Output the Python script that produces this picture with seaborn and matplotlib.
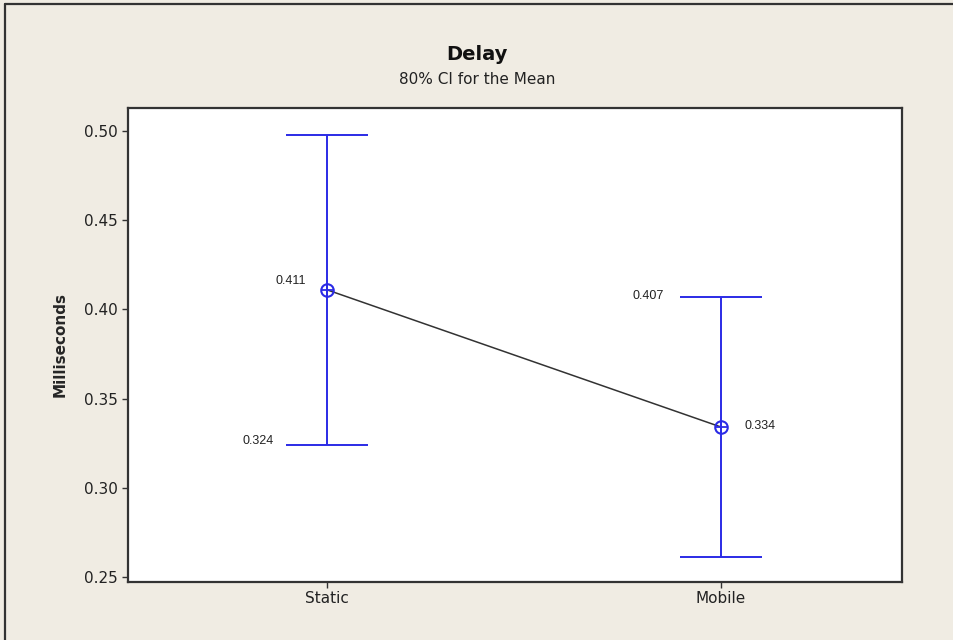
import matplotlib
matplotlib.use("Agg")
import matplotlib.pyplot as plt
import seaborn as sns
import pandas as pd
from matplotlib.lines import Line2D

# Interval plot summary: group means with 80% confidence bounds
groups = ["Static", "Mobile"]
means = [0.411, 0.334]
lower = [0.324, 0.261]
upper = [0.498, 0.407]
yticks = [0.25, 0.30, 0.35, 0.40, 0.45, 0.50]

bg = "#F0ECE3"
blue = "#2B2BE6"

sns.set_theme(style="white")
plt.rcParams["font.family"] = ["DejaVu Sans"]

fig = plt.figure(figsize=(9.54, 6.4), dpi=100, facecolor=bg)
ax = fig.add_axes([0.134, 0.091, 0.8115, 0.740])
ax.set_facecolor("white")

df = pd.DataFrame({"group": groups, "mean": means})

# connecting line between group means
sns.pointplot(data=df, x="group", y="mean", order=groups, color="#333333",
              markers="", linestyles="-", errorbar=None, ax=ax,
              linewidth=1.1)

# confidence intervals with end caps
cap = 0.104
for i, (lo, hi) in enumerate(zip(lower, upper)):
    ax.vlines(i, lo, hi, color=blue, lw=1.4, zorder=3)
    ax.hlines([lo, hi], i - cap, i + cap, color=blue, lw=1.4, zorder=3)

# mean symbols: circle with a cross
xs = list(range(len(groups)))
ax.plot(xs, means, ls="none", marker="o", ms=9, mfc="none", mec=blue, mew=1.5, zorder=4)
ax.plot(xs, means, ls="none", marker="+", ms=9, mec=blue, mew=1.3, zorder=4)

# value labels
lab = dict(fontsize=9, color="#222222", family="Liberation Sans")
ax.annotate(f"{means[0]:.3f}", (0, means[0]), xytext=(-15, 6), textcoords="offset points",
            ha="right", va="center", **lab)
ax.annotate(f"{lower[0]:.3f}", (0 - cap, lower[0]), xytext=(-9, 3), textcoords="offset points",
            ha="right", va="center", **lab)
ax.annotate(f"{upper[1]:.3f}", (1 - cap, upper[1]), xytext=(-12, 1), textcoords="offset points",
            ha="right", va="center", **lab)
ax.annotate(f"{means[1]:.3f}", (1, means[1]), xytext=(17, 1), textcoords="offset points",
            ha="left", va="center", **lab)

ax.set_xlim(-0.505, 1.459)
ax.set_ylim(0.2472, 0.5129)
ax.set_yticks(yticks)
ax.set_yticklabels([f"{v:.2f}" for v in yticks])
ax.set_xlabel("")
ax.set_ylabel("Milliseconds", fontsize=11, fontweight="bold", labelpad=12)
ax.tick_params(axis="both", which="both", direction="out", length=4, width=1,
               color="#333333", labelsize=11, labelcolor="#222222", left=True, bottom=True,
               pad=3)

for s in ax.spines.values():
    s.set_visible(True)
    s.set_color("#333333")
    s.set_linewidth(1.6)

fig.text(0.5, 0.915, "Delay", ha="center", va="center", fontsize=14, fontweight="bold",
         color="#111111")
fig.text(0.5, 0.875, "80% CI for the Mean", ha="center", va="center", fontsize=11, color="#222222")

# frame lines along the top and left edges of the figure
fig.add_artist(Line2D([5 / 954, 5 / 954], [0, 1 - 4 / 640], transform=fig.transFigure,
                      color="#333333", lw=1.6))
fig.add_artist(Line2D([5 / 954, 1], [1 - 4 / 640, 1 - 4 / 640], transform=fig.transFigure,
                      color="#333333", lw=1.6))

fig.savefig("out.png", dpi=100, facecolor=bg)
